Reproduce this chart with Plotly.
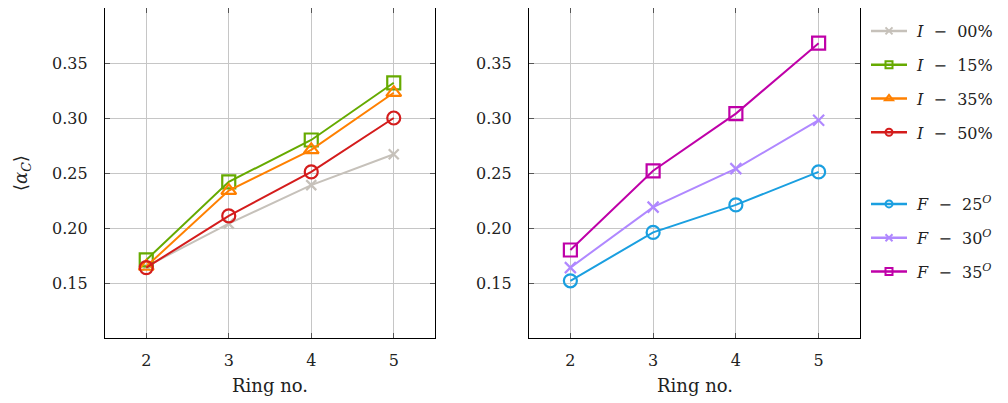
import plotly.graph_objects as go

ring = [2, 3, 4, 5]

# Left panel series
i00 = [0.165, 0.204, 0.239, 0.267]
i15 = [0.171, 0.242, 0.280, 0.332]
i35 = [0.165, 0.234, 0.271, 0.323]
i50 = [0.164, 0.211, 0.251, 0.300]

# Right panel series
f25 = [0.152, 0.196, 0.221, 0.251]
f30 = [0.164, 0.219, 0.254, 0.298]
f35 = [0.180, 0.252, 0.304, 0.368]

yticks = [0.15, 0.20, 0.25, 0.30, 0.35]
ytick_labels = ["0.15", "0.20", "0.25", "0.30", "0.35"]
xticks = [2, 3, 4, 5]

NB = "\u00a0"
FONT = "DejaVu Serif"
TXT = "#222222"
W, H = 1008, 403
OFF = 8  # page offset of the figure div (body margin)


def px(xp):
    return (xp - OFF) / W


def py(yp):
    return (H - (yp - OFF)) / H


def iname(v):
    return NB + "<i>I</i>" + NB * 2 + "−" + NB * 2 + v + "%"


def fname(v):
    return NB + "<i>F</i>" + NB * 2 + "−" + NB * 2 + v + "<sup><i>O</i></sup>"


series = [
    (i00, iname("00"), "#c6c1ba", "x-thin", 10, "x", "y", "legend"),
    (i15, iname("15"), "#66aa00", "square-open", 13, "x", "y", "legend"),
    (i35, iname("35"), "#ff8000", "triangle-up-open", 13, "x", "y", "legend"),
    (i50, iname("50"), "#d41c1c", "circle-open", 13, "x", "y", "legend"),
    (f25, fname("25"), "#1a9fe0", "circle-open", 13, "x2", "y2", "legend2"),
    (f30, fname("30"), "#b088ff", "x-thin", 11, "x2", "y2", "legend2"),
    (f35, fname("35"), "#bf00a8", "square-open", 13, "x2", "y2", "legend2"),
]

fig = go.Figure()
for k, (vals, name, color, sym, msize, xa, ya, leg) in enumerate(series):
    fig.add_trace(go.Scatter(
        x=ring, y=vals, name=name, mode="lines+markers",
        xaxis=xa, yaxis=ya, showlegend=False,
        line=dict(color=color, width=2),
        marker=dict(symbol=sym, size=msize, color=color,
                    line=dict(color=color, width=2.2)),
    ))
    # legend-only entry with the small legend marks used in the reference
    fig.add_trace(go.Scatter(
        x=[None], y=[None], name=name, mode="lines+markers",
        xaxis=xa, yaxis=ya, legend=leg, legendgroup="g%d" % k,
        line=dict(color=color, width=2.5),
        marker=dict(symbol=sym, size=7, color=color,
                    line=dict(color=color, width=2)),
    ))

axis_common = dict(
    showgrid=True, gridcolor="#c6c6c6", gridwidth=1,
    showline=True, linecolor="black", linewidth=1.2, mirror="allticks",
    ticks="inside", ticklen=5, tickcolor="#555555", tickwidth=1,
    zeroline=False, tickfont=dict(family=FONT, size=16, color=TXT),
    automargin=False,
)

xd1 = [px(105), px(435)]
xd2 = [px(529), px(860)]
yd = [py(338), py(8)]

fig.update_layout(
    width=W, height=H,
    margin=dict(l=0, r=0, t=0, b=0),
    paper_bgcolor="white", plot_bgcolor="white",
    xaxis=dict(domain=xd1, range=[1.5, 5.5], tickvals=xticks, anchor="y",
               ticklabelstandoff=8, **axis_common),
    yaxis=dict(domain=yd, range=[0.10, 0.40], tickvals=yticks, ticktext=ytick_labels,
               anchor="x", ticklabelstandoff=13, **axis_common),
    xaxis2=dict(domain=xd2, range=[1.5, 5.5], tickvals=xticks, anchor="y2",
                ticklabelstandoff=8, **axis_common),
    yaxis2=dict(domain=yd, range=[0.10, 0.40], tickvals=yticks, ticktext=ytick_labels,
                anchor="x2", ticklabelstandoff=13, **axis_common),
    legend=dict(x=px(866), y=py(14), xanchor="left", yanchor="top",
                font=dict(family=FONT, size=16, color=TXT),
                tracegroupgap=10, bgcolor="rgba(0,0,0,0)", borderwidth=0,
                itemwidth=36),
    legend2=dict(x=px(866), y=py(187), xanchor="left", yanchor="top",
                 font=dict(family=FONT, size=16, color=TXT),
                 tracegroupgap=10, bgcolor="rgba(0,0,0,0)", borderwidth=0,
                 itemwidth=36),
    annotations=[
        dict(text="Ring no.", x=(xd1[0] + xd1[1]) / 2, y=py(385),
             xref="paper", yref="paper", showarrow=False,
             xanchor="center", yanchor="middle",
             font=dict(family=FONT, size=18, color=TXT)),
        dict(text="Ring no.", x=(xd2[0] + xd2[1]) / 2, y=py(385),
             xref="paper", yref="paper", showarrow=False,
             xanchor="center", yanchor="middle",
             font=dict(family=FONT, size=18, color=TXT)),
        dict(text="⟨<i>α<sub>C</sub></i>⟩", x=px(22), y=py(173),
             xref="paper", yref="paper", showarrow=False, textangle=-90,
             xanchor="center", yanchor="middle",
             font=dict(family=FONT, size=18, color=TXT)),
    ],
)

fig.write_html("out.html")
